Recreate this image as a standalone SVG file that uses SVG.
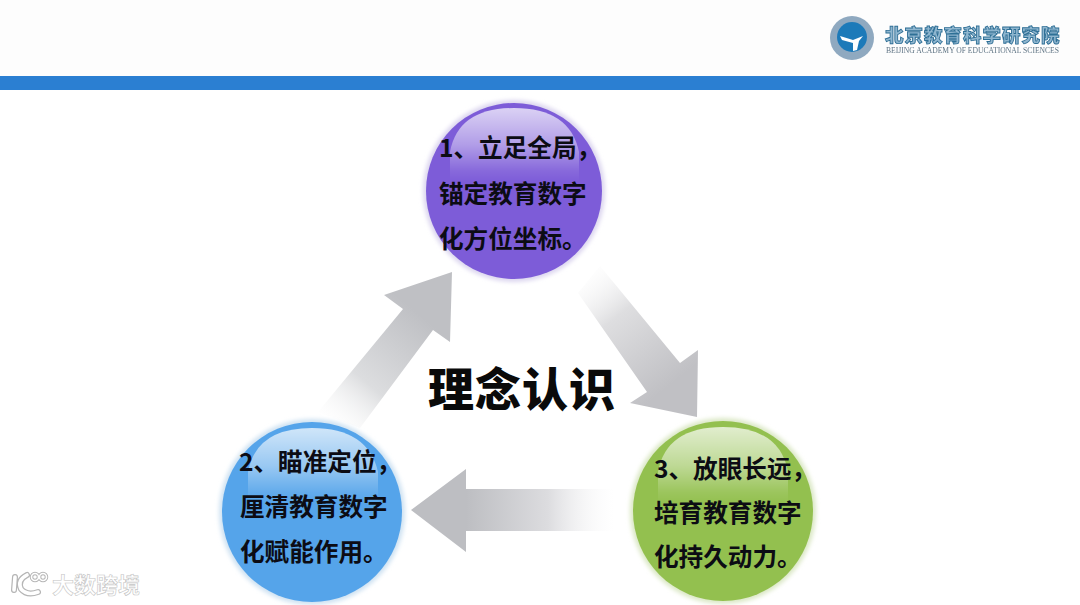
<svg xmlns="http://www.w3.org/2000/svg" width="1080" height="605" viewBox="0 0 1080 605">
<style>
.t{font-family:"Noto Sans CJK SC","Liberation Sans",sans-serif;font-weight:700;font-size:24.6px;fill:#0c0c14}
.title{font-family:"Noto Sans CJK SC",sans-serif;font-weight:900;font-size:46px;fill:#0a0a0a;letter-spacing:1px}
.gloss{fill:url(#gloss)}
.halo{filter:url(#soft)}
.wm{fill:none;stroke-linecap:round}
</style>
<defs>
<filter id="soft" x="-20%" y="-20%" width="140%" height="140%"><feGaussianBlur stdDeviation="2.2"/></filter>
<filter id="b1" x="-5%" y="-5%" width="110%" height="110%"><feGaussianBlur stdDeviation="0.5"/></filter>
<linearGradient id="gloss" x1="0" y1="0" x2="0" y2="1">
<stop offset="0" stop-color="#fff" stop-opacity=".72"/>
<stop offset=".5" stop-color="#fff" stop-opacity=".4"/>
<stop offset=".85" stop-color="#fff" stop-opacity=".08"/>
<stop offset="1" stop-color="#fff" stop-opacity="0"/>
</linearGradient>
<linearGradient id="ar3" gradientUnits="userSpaceOnUse" x1="466" y1="510" x2="615" y2="510">
<stop offset="0" stop-color="#bdbec2"/><stop offset=".55" stop-color="#dcdcdf"/><stop offset="1" stop-color="#fff" stop-opacity=".2"/>
</linearGradient>
<linearGradient id="ar1" gradientUnits="userSpaceOnUse" x1="670" y1="385" x2="580" y2="272">
<stop offset="0" stop-color="#c0c0c4"/><stop offset=".6" stop-color="#dedee0"/><stop offset="1" stop-color="#fff" stop-opacity=".2"/>
</linearGradient>
<linearGradient id="ar2" gradientUnits="userSpaceOnUse" x1="420" y1="315" x2="328" y2="425">
<stop offset="0" stop-color="#bfc0c4"/><stop offset=".6" stop-color="#dcdddf"/><stop offset="1" stop-color="#fff" stop-opacity=".2"/>
</linearGradient>
</defs>
<rect width="1080" height="605" fill="#fff"/>
<rect x="0" y="0" width="1080" height="76" fill="#fdfdfd"/>
<rect x="0" y="76" width="1080" height="14" fill="#2b7fd2"/>

<g id="logo" filter="url(#b1)">
<circle cx="852" cy="38" r="22" fill="#8fa9c0"/>
<circle cx="852" cy="37" r="15" fill="#1f7ab9"/>
<path d="M840 36 L853 40 L863 36 L859 41 L857 50 L853 51 L853 43 L842 40Z" fill="#fff"/>
<text x="885" y="42" font-family="'Noto Sans CJK SC',sans-serif" font-weight="900" font-size="18.5" letter-spacing="1" fill="#8fb6cf" stroke="#2f6f96" stroke-width=".9">北京教育科学研究院</text>
<text x="886" y="53" font-family="'Liberation Serif',serif" font-size="7.5" fill="#5f7484" textLength="173" lengthAdjust="spacingAndGlyphs">BEIJING ACADEMY OF EDUCATIONAL SCIENCES</text>
</g>

<g id="connectors">
<path id="arrow-1-3" d="M600 266 L680 363 L698 350 L697 417 L630 403 L647 392 L578 293Z" fill="url(#ar1)"/>
<path id="arrow-3-2" d="M615 489 L466 489 L466 469 L411 510 L466 552 L466 531 L615 531Z" fill="url(#ar3)"/>
<path id="arrow-2-1" d="M360 428 L433 330 L450 342 L452 272 L384 295 L403 309 L318 412Z" fill="url(#ar2)"/>
</g>

<g id="node-1">
<circle class="halo" cx="514" cy="191" r="91" fill="#dcd6ef"/>
<circle cx="514" cy="191" r="88" fill="#7d5cd8"/>
<path d="M450 182 L450 152 Q458 108 514 108 Q570 108 579 152 L579 182Z" class="gloss"/>
<text class="t" x="439" y="157">1、立足全局，</text>
<text class="t" x="439" y="203">锚定教育数字</text>
<text class="t" x="439" y="248">化方位坐标。</text>
</g>

<g id="node-2">
<circle class="halo" cx="312" cy="512" r="93" fill="#cfe2f2"/>
<circle cx="312" cy="512" r="90" fill="#55a4ea"/>
<path d="M248 504 L248 472 Q256 428 312 428 Q368 428 378 472 L378 504Z" class="gloss"/>
<text class="t" x="239" y="471">2、瞄准定位，</text>
<text class="t" x="240" y="516">厘清教育数字</text>
<text class="t" x="240" y="561">化赋能作用。</text>
</g>

<g id="node-3">
<circle class="halo" cx="723" cy="511" r="93" fill="#dbe8c6"/>
<circle cx="723" cy="511" r="90" fill="#93c04f"/>
<path d="M658 504 L658 472 Q666 427 723 427 Q780 427 788 472 L788 504Z" class="gloss"/>
<text class="t" x="654" y="478">3、放眼长远，</text>
<text class="t" x="654" y="522">培育教育数字</text>
<text class="t" x="654" y="566">化持久动力。</text>
</g>

<g id="center">
<text class="title" x="428" y="406">理念认识</text>
</g>

<g id="watermark">
<g class="wm" stroke="#b5b5b5" stroke-width="6">
<path d="M15 577 L14 590 M27 575 Q17 580 21 589 Q27 596 38 592"/>
<circle cx="35" cy="577" r="3.5" stroke-width="3.5"/><circle cx="43" cy="577" r="3.5" stroke-width="3.5"/>
</g>
<g class="wm" stroke="#fff" stroke-width="3.6">
<path d="M15 577 L14 590 M27 575 Q17 580 21 589 Q27 596 38 592"/>
<circle cx="35" cy="577" r="3.5" stroke-width="1.6"/><circle cx="43" cy="577" r="3.5" stroke-width="1.6"/>
</g>
<text x="52" y="593" font-family="'Noto Sans CJK SC',sans-serif" font-weight="700" font-size="22" fill="#fff" stroke="#c4c4c4" stroke-width=".6">大数跨境</text>
</g>
</svg>
